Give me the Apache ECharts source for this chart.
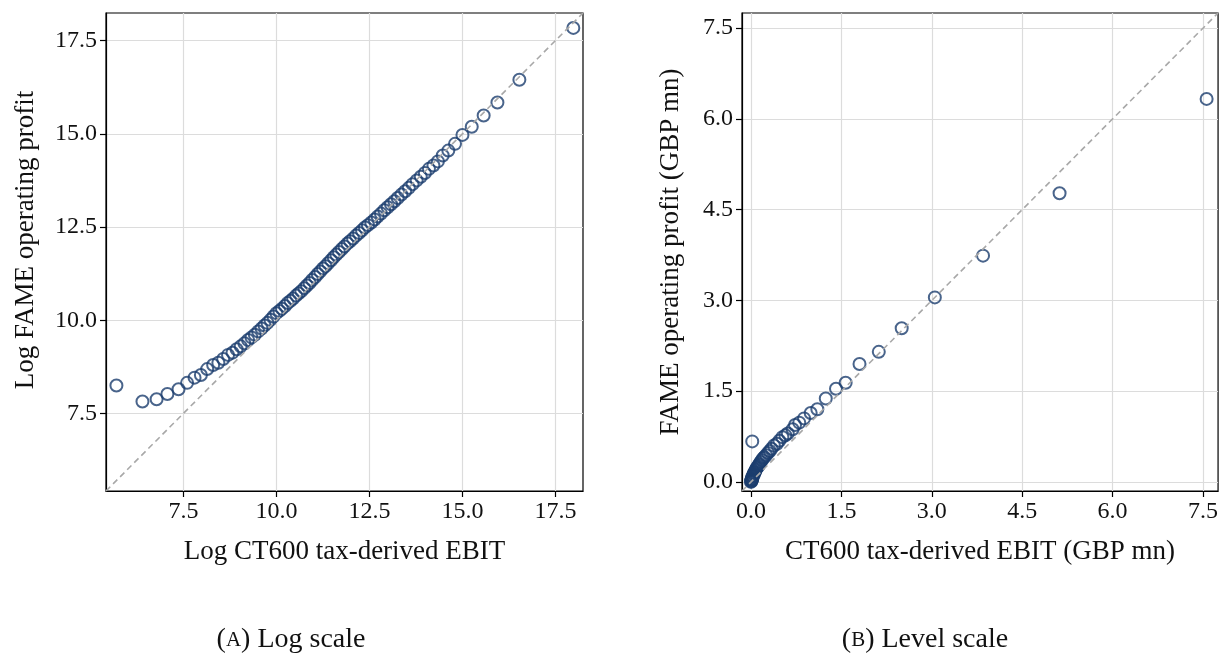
<!DOCTYPE html>
<html>
<head>
<meta charset="utf-8">
<script src="https://cdn.jsdelivr.net/npm/echarts@6/dist/echarts.min.js"></script>
<style>
  html, body { margin: 0; padding: 0; background: #fff; }
  #chart { width: 1221px; height: 655px; }
</style>
</head>
<body>
<div id="chart"></div>
<script>
"use strict"

// panel A: log scale
const logX = [5.70, 6.40, 6.78, 7.07, 7.37, 7.60, 7.80, 7.97, 8.14, 8.30, 8.44, 8.57, 8.70, 8.82, 8.93,
  9.04, 9.14, 9.24, 9.33, 9.42, 9.51, 9.60, 9.68, 9.76, 9.84, 9.92, 10.00, 10.08, 10.15, 10.23,
  10.30, 10.38, 10.45, 10.53, 10.60, 10.67, 10.75, 10.82, 10.89, 10.96, 11.04, 11.11, 11.18, 11.25,
  11.32, 11.39, 11.47, 11.54, 11.61, 11.68, 11.76, 11.83, 11.91, 11.98, 12.06, 12.14, 12.22, 12.30,
  12.38, 12.46, 12.55, 12.64, 12.72, 12.81, 12.90, 12.99, 13.08, 13.17, 13.26, 13.36, 13.46, 13.56,
  13.66, 13.77, 13.88, 13.99, 14.10, 14.22, 14.34, 14.47, 14.62, 14.80, 15.00, 15.25, 15.57, 15.94,
  16.53, 17.98];
const logY = [8.25, 7.82, 7.88, 8.02, 8.15, 8.32, 8.46, 8.53, 8.69, 8.80, 8.86, 8.96, 9.07, 9.13, 9.22,
  9.30, 9.38, 9.47, 9.54, 9.61, 9.70, 9.78, 9.86, 9.93, 10.01, 10.10, 10.19, 10.25, 10.31, 10.38,
  10.46, 10.52, 10.58, 10.66, 10.72, 10.78, 10.86, 10.93, 11.00, 11.08, 11.16, 11.24, 11.31, 11.39,
  11.45, 11.53, 11.61, 11.69, 11.76, 11.83, 11.91, 11.98, 12.06, 12.12, 12.19, 12.27, 12.34, 12.41,
  12.49, 12.55, 12.62, 12.70, 12.78, 12.86, 12.95, 13.03, 13.11, 13.19, 13.28, 13.37, 13.46, 13.55,
  13.65, 13.75, 13.85, 13.95, 14.06, 14.15, 14.26, 14.42, 14.55, 14.73, 14.97, 15.19, 15.49, 15.84,
  16.45, 17.84];

// panel B: level scale (GBP mn)
const levelX = [0.00, 0.00, 0.01, 0.01, 0.01, 0.02, 0.02, 0.02, 0.03, 0.03, 0.04, 0.05, 0.05, 0.06,
  0.07, 0.08, 0.09, 0.10, 0.12, 0.13, 0.14, 0.16, 0.18, 0.20, 0.22, 0.25, 0.28, 0.31, 0.34, 0.38,
  0.43, 0.47, 0.52, 0.57, 0.61, 0.69, 0.73, 0.80, 0.88, 0.99, 1.10, 1.24, 1.41, 1.57, 1.80, 2.12,
  2.50, 3.05, 3.85, 5.12, 7.56, 0.02];
const levelY = [0.00, 0.01, 0.02, 0.03, 0.04, 0.05, 0.06, 0.08, 0.09, 0.10, 0.12, 0.13, 0.15, 0.16,
  0.18, 0.20, 0.22, 0.24, 0.26, 0.28, 0.30, 0.33, 0.36, 0.39, 0.41, 0.44, 0.48, 0.51, 0.55, 0.60,
  0.63, 0.68, 0.74, 0.77, 0.80, 0.87, 0.94, 0.98, 1.05, 1.14, 1.20, 1.38, 1.54, 1.64, 1.95, 2.15,
  2.54, 3.05, 3.74, 4.77, 6.33, 0.67];

const logTicks = [7.5, 10.0, 12.5, 15.0, 17.5];
const levelTicks = [0.0, 1.5, 3.0, 4.5, 6.0, 7.5];
const logRange = [5.42, 18.24];
const levelRange = [-0.15, 7.75];

const navy = '#1c3d6e';
const font = '"Liberation Serif", "Times New Roman", serif';

function pairs(xs, ys) {
  return xs.map((x, i) => [x, ys[i]]);
}

function makeAxis(gridIndex, range, ticks, name, nameGap, namePad) {
  return {
    type: 'value',
    gridIndex: gridIndex,
    min: range[0],
    max: range[1],
    name: name,
    nameLocation: 'middle',
    nameGap: nameGap,
    nameTextStyle: { fontFamily: font, fontSize: 27, color: '#111', padding: namePad || 0 },
    axisLine: { show: true, onZero: false, lineStyle: { color: '#000', width: 1.2 } },
    axisTick: { show: true, length: 6, lineStyle: { color: '#000', width: 1.2 }, customValues: ticks },
    axisLabel: {
      customValues: ticks,
      fontFamily: font, fontSize: 24, color: '#111',
      margin: 9,
      formatter: v => v.toFixed(1)
    },
    splitLine: { show: true, lineStyle: { color: '#dcdcdc', width: 1.2 } }
  };
}

function caption(cx, letter, rest) {
  return {
    type: 'text', x: cx, y: 640,
    style: {
      text: '({sc|' + letter + '}) ' + rest,
      rich: { sc: { fontFamily: font, fontSize: 21, fill: '#111' } },
      fontFamily: font, fontSize: 28, fill: '#111',
      align: 'center', verticalAlign: 'middle'
    }
  };
}

const chart = echarts.init(document.getElementById('chart'));

chart.setOption({
  animation: false,
  backgroundColor: '#fff',
  grid: [
    { left: 106, top: 13, width: 477, height: 478, show: true, borderColor: '#000', borderWidth: 1.2 },
    { left: 742, top: 13, width: 478, height: 478, show: true, borderColor: '#000', borderWidth: 1.2 }
  ],
  xAxis: [
    makeAxis(0, logRange, logTicks, 'Log CT600 tax-derived EBIT', 47),
    makeAxis(1, levelRange, levelTicks, 'CT600 tax-derived EBIT (GBP mn)', 47)
  ],
  yAxis: [
    makeAxis(0, logRange, logTicks, 'Log FAME operating profit', 67, [0, 0, 0, 24]),
    makeAxis(1, levelRange, levelTicks, 'FAME operating profit (GBP mn)', 58)
  ],
  series: [
    {
      type: 'line', xAxisIndex: 0, yAxisIndex: 0,
      data: [[logRange[0], logRange[0]], [logRange[1], logRange[1]]],
      symbol: 'none', silent: true,
      lineStyle: { color: '#a8a8a8', width: 1.6, type: [6, 4] }
    },
    {
      type: 'scatter', xAxisIndex: 0, yAxisIndex: 0,
      data: pairs(logX, logY),
      symbol: 'circle', symbolSize: 12,
      itemStyle: { color: 'rgba(0,0,0,0)', borderColor: navy, borderWidth: 2 }
    },
    {
      type: 'line', xAxisIndex: 1, yAxisIndex: 1,
      data: [[levelRange[0], levelRange[0]], [levelRange[1], levelRange[1]]],
      symbol: 'none', silent: true,
      lineStyle: { color: '#a8a8a8', width: 1.6, type: [6, 4] }
    },
    {
      type: 'scatter', xAxisIndex: 1, yAxisIndex: 1,
      data: pairs(levelX, levelY),
      symbol: 'circle', symbolSize: 12,
      itemStyle: { color: 'rgba(0,0,0,0)', borderColor: navy, borderWidth: 2 }
    }
  ],
  graphic: [
    caption(291, 'A', 'Log scale'),
    caption(925, 'B', 'Level scale')
  ]
});
</script>
</body>
</html>
